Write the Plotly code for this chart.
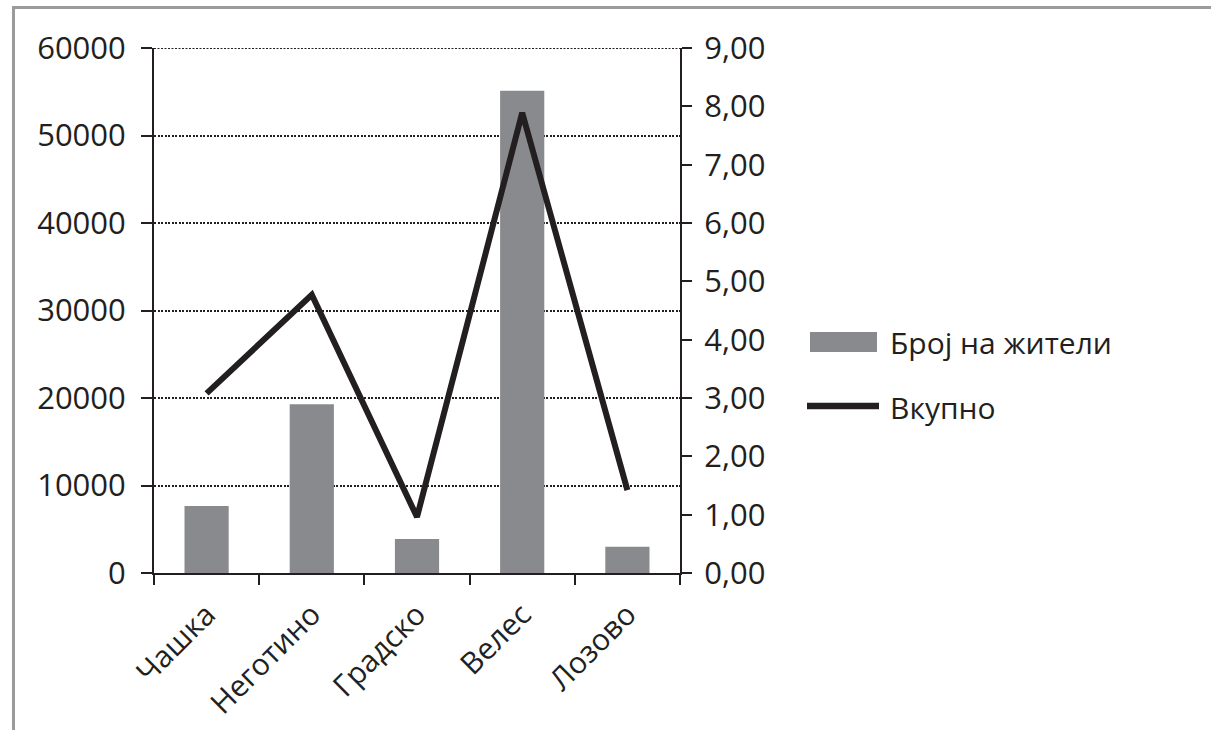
import plotly.graph_objects as go

# Municipalities of the Vardar region
categories = ["Чашка", "Неготино", "Градско", "Велес", "Лозово"]
# Population (left axis)
population = [7650, 19300, 3900, 55100, 3000]
# Total (right axis)
total = [3.08, 4.77, 0.96, 7.89, 1.42]

bar_name = "Број на жители"
line_name = "Вкупно"

INK = "#231F20"
BAR = "#898A8D"
FONT = "Open Sans, Noto Sans, sans-serif"
GRID_DASH = "2px,1.5px"

W, H = 1211, 730
L, R, T, B = 154, 680, 48, 573  # plot area in pixels


def px_x(px):
    return (px - L) / (R - L)


def px_y(py):
    return (B - py) / (B - T)


fig = go.Figure()
fig.add_trace(go.Bar(
    x=categories, y=population, name=bar_name,
    marker=dict(color=BAR, line=dict(width=0)),
    yaxis="y", showlegend=False,
))
fig.add_trace(go.Scatter(
    x=categories, y=total, name=line_name, mode="lines",
    line=dict(color=INK, width=6),
    yaxis="y2", showlegend=False,
))

# Framing lines around the chart
frame = "#9B9B9B"
shapes = [
    dict(type="line", xref="paper", yref="paper",
         x0=px_x(12.5), x1=px_x(W + 5), y0=px_y(7.5), y1=px_y(7.5),
         line=dict(color=frame, width=3)),
    dict(type="line", xref="paper", yref="paper",
         x0=px_x(13.5), x1=px_x(13.5), y0=px_y(6), y1=px_y(H + 5),
         line=dict(color=frame, width=3)),
    # dotted gridline along the top of the value range
    dict(type="line", xref="paper", yref="y", x0=0, x1=1, y0=60000, y1=60000,
         line=dict(color=INK, width=2, dash=GRID_DASH), layer="below"),
    # legend swatches
    dict(type="rect", xref="paper", yref="paper",
         x0=px_x(810), x1=px_x(877), y0=px_y(352), y1=px_y(332),
         fillcolor=BAR, line=dict(width=0)),
    dict(type="line", xref="paper", yref="paper",
         x0=px_x(807), x1=px_x(879), y0=px_y(406), y1=px_y(406),
         line=dict(color=INK, width=6.5)),
]

annotations = [
    dict(text=bar_name, xref="paper", yref="paper", x=px_x(888), y=px_y(342),
         xanchor="left", yanchor="middle", showarrow=False,
         font=dict(family=FONT, size=30, color=INK)),
    dict(text=line_name, xref="paper", yref="paper", x=px_x(888), y=px_y(407),
         xanchor="left", yanchor="middle", showarrow=False,
         font=dict(family=FONT, size=30, color=INK)),
]

tick_font = dict(family=FONT, size=31, color=INK)

fig.update_layout(
    width=W, height=H,
    margin=dict(l=L, r=W - R, t=T, b=H - B, pad=0),
    paper_bgcolor="white", plot_bgcolor="white",
    separators=", ",
    bargap=0.58,
    shapes=shapes,
    annotations=annotations,
    xaxis=dict(
        type="category", tickson="boundaries", tickangle=-45,
        ticks="outside", ticklen=10, tickwidth=2, tickcolor=INK,
        showline=True, linecolor=INK, linewidth=2,
        showgrid=False, tickfont=dict(family=FONT, size=30, color=INK),
        range=[-0.5, 4.5], ticklabelstandoff=10, automargin=False,
    ),
    yaxis=dict(
        range=[0, 60000], dtick=10000, tickformat="d",
        ticks="outside", ticklen=11, tickwidth=2, tickcolor=INK,
        showline=True, linecolor=INK, linewidth=2,
        showgrid=True, gridcolor=INK, gridwidth=2, griddash=GRID_DASH,
        zeroline=False, tickfont=tick_font, ticklabelstandoff=9,
        automargin=False,
    ),
    yaxis2=dict(
        overlaying="y", side="right", range=[0, 9], dtick=1, tickformat=".2f",
        ticks="outside", ticklen=10, tickwidth=2, tickcolor=INK,
        showline=True, linecolor=INK, linewidth=2,
        showgrid=False, zeroline=False, tickfont=tick_font,
        ticklabelstandoff=6, automargin=False,
    ),
)

fig.write_html("out.html")
